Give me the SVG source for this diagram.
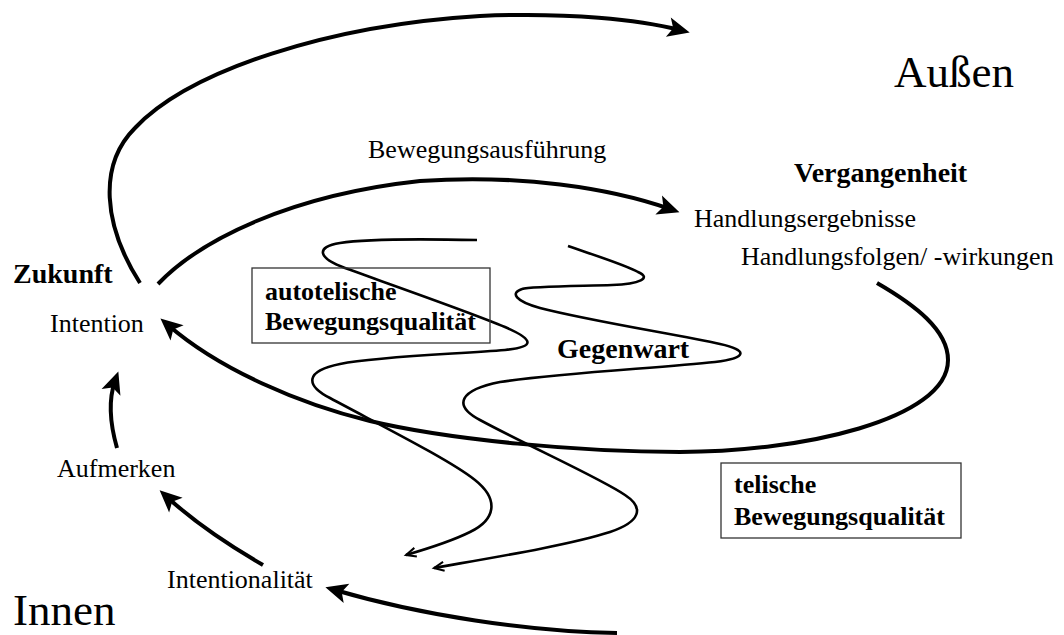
<svg xmlns="http://www.w3.org/2000/svg" width="1064" height="635" viewBox="0 0 1064 635">
<style>
text{font-family:'Liberation Serif','Times New Roman',serif;fill:#000}
.r{font-size:26px}
.b{font-size:28px;font-weight:bold}
.bb{font-size:26px;font-weight:bold}
.big{font-size:45px}
.thick{fill:none;stroke:#000;stroke-width:4;stroke-linecap:butt}
.wave{fill:none;stroke:#000;stroke-width:2.6;stroke-linecap:butt}
.box{fill:#fff;stroke:#333;stroke-width:1.3}
</style>
<defs>
<marker id="ah" markerUnits="userSpaceOnUse" markerWidth="40" markerHeight="40" orient="auto" refX="0" refY="0" overflow="visible">
<path d="M10,0 L-12,-10 L-7,0 L-12,10 Z" fill="#000"/>
</marker>
<marker id="va" markerUnits="userSpaceOnUse" markerWidth="20" markerHeight="20" orient="auto" refX="0" refY="0" overflow="visible">
<path d="M-10,-4.5 L0,0 L-10,4.5" fill="none" stroke="#000" stroke-width="2"/>
</marker>
</defs>

<g id="connectors">
<path id="c-outer" class="thick" marker-end="url(#ah)" d="M140,283 C103,225 98,165 135,128 C190,70 330,25 480,16 C570,12 640,20 680,30"/>
<path id="c-ausfuehrung" class="thick" marker-end="url(#ah)" d="M158,284 C200,240 290,195 420,181 C520,174 610,188 670,209"/>
<path id="c-loop" class="thick" marker-end="url(#ah)" d="M877,283 C915,305 948,330 948,360 C948,420 800,452 680,452 C580,452 450,440 370,421 C300,404 220,370 168,325"/>
<path id="c-bottom" class="thick" marker-end="url(#ah)" d="M617,633 C530,632 420,615 335,590"/>
<path id="c-intentionalitaet" class="thick" marker-end="url(#ah)" d="M263,565 C225,543 190,518 167,497"/>
<path id="c-aufmerken" class="thick" marker-end="url(#ah)" d="M117,448 C109,420 109,398 115,381"/>
<path id="wave-a" class="wave" marker-end="url(#va)" d="M477,240 C430,239 370,238 340,243 C315,247 318,258 345,268 C372,278 470,312 505,327 C535,340 535,347 505,350 C460,354 380,356 340,364 C305,371 305,385 330,398 C380,425 450,460 475,480 C500,500 495,520 470,532 C450,542 430,548 406,555"/>
<path id="wave-b" class="wave" marker-end="url(#va)" d="M568,246 C600,257 628,266 638,272 C652,278 640,284 612,285 C585,286 530,286 522,289 C510,293 515,301 540,308 C590,321 680,335 720,344 C748,350 748,358 715,362 C660,368 560,373 500,382 C460,390 452,405 480,420 C530,447 600,478 625,495 C645,508 640,522 610,532 C570,545 490,558 434,568"/>
</g>

<g id="n-aussen"><text class="big" x="894" y="87">Außen</text></g>
<g id="n-innen"><text class="big" x="13" y="625">Innen</text></g>
<g id="n-zukunft"><text class="b" x="13" y="283">Zukunft</text></g>
<g id="n-intention"><text class="r" x="50" y="332">Intention</text></g>
<g id="n-aufmerken"><text class="r" x="57" y="477">Aufmerken</text></g>
<g id="n-intentionalitaet"><text class="r" x="167" y="588">Intentionalität</text></g>
<g id="n-bewegungsausfuehrung"><text class="r" x="368" y="158">Bewegungsausführung</text></g>
<g id="n-vergangenheit"><text class="b" x="794" y="182">Vergangenheit</text></g>
<g id="n-handlungsergebnisse"><text class="r" x="694" y="227">Handlungsergebnisse</text></g>
<g id="n-handlungsfolgen"><text class="r" x="741" y="265">Handlungsfolgen/ -wirkungen</text></g>
<g id="n-gegenwart"><text class="b" x="557" y="358">Gegenwart</text></g>
<g id="n-autotelisch">
<rect class="box" x="252" y="268" width="238" height="75" fill="none" style="fill:none"/>
<text class="bb" x="265" y="300">autotelische</text>
<text class="bb" x="265" y="330">Bewegungsqualität</text>
</g>
<g id="n-telisch">
<rect class="box" x="721" y="463" width="240" height="75"/>
<text class="bb" x="734" y="493">telische</text>
<text class="bb" x="734" y="525">Bewegungsqualität</text>
</g>
</svg>
